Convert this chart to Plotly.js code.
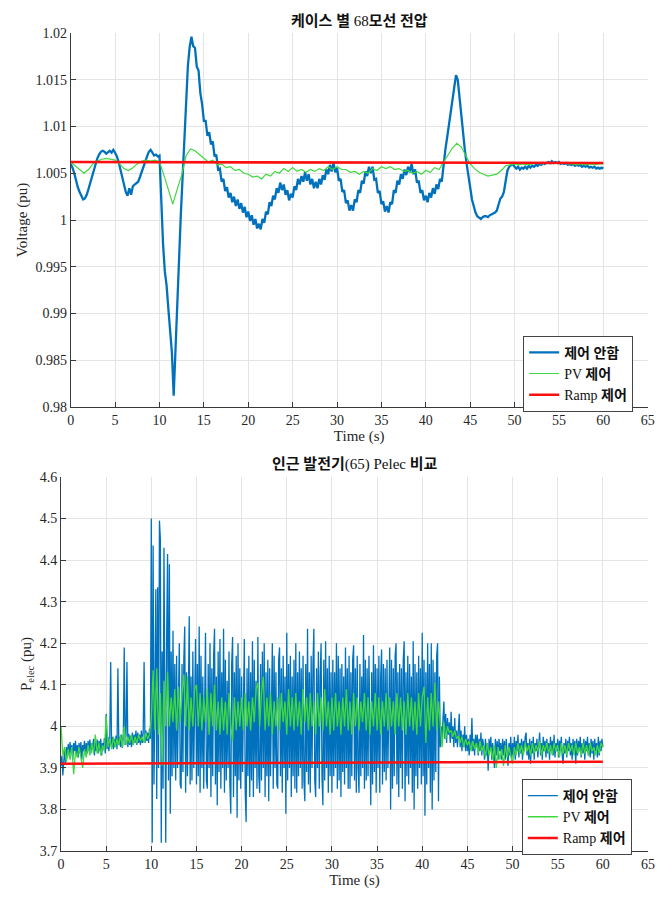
<!DOCTYPE html>
<html><head><meta charset="utf-8">
<script src="https://cdn.plot.ly/plotly-3.0.1.min.js"></script>
<style>html,body{margin:0;padding:0;background:#fff}#chart{width:669px;height:900px}</style>
</head><body><div id="chart"></div>
<script>
// ---------- labels ----------
const seriesNames = ['<b>제어 안함</b>', 'PV <b>제어</b>', 'Ramp <b>제어</b>'];
const seriesColors = ['#0072BD', '#3fd83f', '#ff1010'];
const titleTop = '<b>케이스 별</b> 68<b>모선 전압</b>';
const titleBottom = '<b>인근 발전기</b>(65) Pelec <b>비교</b>';
const timeLabel = 'Time (s)';
const voltLabel = 'Voltage (pu)';
const pLabel = 'P<sub>elec</sub> (pu)';
const voltTickVals = [0.98, 0.985, 0.99, 0.995, 1, 1.005, 1.01, 1.015, 1.02];
const voltTickText = ['0.98', '0.985', '0.99', '0.995', '1', '1.005', '1.01', '1.015', '1.02'];
const pTickVals = [3.7, 3.8, 3.9, 4.0, 4.1, 4.2, 4.3, 4.4, 4.5, 4.6];
const pTickText = ['3.7', '3.8', '3.9', '4', '4.1', '4.2', '4.3', '4.4', '4.5', '4.6'];

// ---------- bus 68 voltage (pu) ----------
const voltNoneStep = 0.2; // s
const voltNone = [
1.0060,1.0056,1.0050,1.0042,1.0035,1.0030,1.0025,1.0022,1.0023,1.0027,
1.0033,1.0040,1.0047,1.0055,1.0061,1.0066,1.0070,1.0073,1.0074,1.0073,
1.0071,1.0073,1.0074,1.0072,1.0075,1.0072,1.0068,1.0062,1.0054,1.0045,
1.0036,1.0030,1.0026,1.0034,1.0027,1.0036,1.0038,1.0040,1.0041,1.0046,
1.0052,1.0058,1.0063,1.0068,1.0073,1.0075,1.0072,1.0069,1.0070,1.0068,
1.0069,1.0010,0.9975,0.9945,0.9930,0.9905,0.9882,0.9858,0.9812,0.9866,
0.9914,0.9960,1.0005,1.0045,1.0090,1.0130,1.0165,1.0185,1.0196,1.0186,
1.0184,1.0164,1.0160,1.0136,1.0124,1.0106,1.0106,1.0090,1.0094,1.0081,
1.0084,1.0068,1.0070,1.0054,1.0055,1.0041,1.0044,1.0031,1.0035,1.0024,
1.0029,1.0019,1.0025,1.0015,1.0022,1.0012,1.0018,1.0008,1.0014,1.0003,
1.0009,0.9999,1.0005,0.9995,1.0001,0.9991,0.9996,0.9990,1.0001,0.9997,
1.0009,1.0006,1.0019,1.0015,1.0026,1.0022,1.0034,1.0029,1.0040,1.0032,
1.0038,1.0027,1.0032,1.0021,1.0028,1.0024,1.0036,1.0032,1.0044,1.0038,
1.0047,1.0041,1.0051,1.0042,1.0049,1.0038,1.0044,1.0034,1.0041,1.0034,
1.0044,1.0038,1.0048,1.0043,1.0054,1.0049,1.0059,1.0052,1.0061,1.0051,
1.0056,1.0042,1.0044,1.0030,1.0032,1.0018,1.0021,1.0010,1.0016,1.0010,
1.0022,1.0019,1.0032,1.0029,1.0042,1.0039,1.0052,1.0047,1.0057,1.0050,
1.0057,1.0043,1.0044,1.0029,1.0031,1.0017,1.0020,1.0009,1.0015,1.0008,
1.0019,1.0017,1.0032,1.0029,1.0042,1.0038,1.0049,1.0044,1.0054,1.0048,
1.0057,1.0051,1.0060,1.0049,1.0054,1.0040,1.0042,1.0029,1.0032,1.0021,
1.0026,1.0019,1.0029,1.0024,1.0034,1.0028,1.0038,1.0033,1.0044,1.0041,
1.0062,1.0075,1.0088,1.0102,1.0115,1.0130,1.0145,1.0155,1.0150,1.0130,
1.0115,1.0095,1.0075,1.0060,1.0045,1.0035,1.0022,1.0014,1.0008,1.0004,
1.0002,1.0001,1.0003,1.0004,1.0004,1.0003,1.0005,1.0006,1.0007,1.0008,
1.0010,1.0018,1.0023,1.0025,1.0030,1.0042,1.0053,1.0057,1.0059,1.0060,
1.0057,1.0055,1.0057,1.0054,1.0056,1.0055,1.0057,1.0055,1.0058,1.0056,
1.0058,1.0057,1.0059,1.0058,1.0060,1.0059,1.0061,1.0060,1.0061,1.0062,
1.0061,1.0063,1.0061,1.0062,1.0061,1.0062,1.0060,1.0061,1.0060,1.0061,
1.0059,1.0060,1.0059,1.0060,1.0058,1.0059,1.0058,1.0059,1.0057,1.0058,
1.0057,1.0058,1.0056,1.0057,1.0056,1.0057,1.0055,1.0056,1.0055,1.0056,
1.0055];

const voltPVStep = 0.5; // s
const voltPV = [
1.0062,1.0058,1.0053,1.0050,1.0054,1.0060,1.0063,1.0065,1.0066,1.0065,
1.0064,1.0060,1.0055,1.0053,1.0056,1.0060,1.0063,1.0064,1.0063,1.0064,
1.0062,1.0048,1.0032,1.0017,1.0033,1.0048,1.0069,1.0076,1.0074,1.0070,
1.0066,1.0062,1.0064,1.0059,1.0060,1.0056,1.0057,1.0053,1.0054,1.0050,
1.0049,1.0046,1.0047,1.0044,1.0049,1.0047,1.0052,1.0050,1.0055,1.0052,
1.0056,1.0052,1.0054,1.0051,1.0054,1.0052,1.0055,1.0053,1.0057,1.0054,
1.0057,1.0054,1.0054,1.0051,1.0052,1.0049,1.0052,1.0050,1.0055,1.0053,
1.0057,1.0055,1.0057,1.0054,1.0055,1.0052,1.0053,1.0050,1.0052,1.0049,
1.0053,1.0051,1.0056,1.0054,1.0062,1.0069,1.0077,1.0082,1.0078,1.0069,
1.0060,1.0055,1.0051,1.0049,1.0047,1.0048,1.0049,1.0053,1.0058,1.0059,
1.0060,1.0059,1.0060,1.0059,1.0060,1.0061,1.0060,1.0061,1.0060,1.0061,
1.0060,1.0061,1.0060,1.0060,1.0059,1.0060,1.0059,1.0060,1.0059,1.0060,
1.0060];

const voltRampT = [0, 60];
const voltRamp = [1.0062, 1.0061];

// ---------- generator 65 Pelec (pu) ----------
const pNoneStep = 0.1; // s
const pNone = [
3.905,3.93,3.882,3.92,3.945,3.91,3.95,3.925,3.958,3.93,
3.962,3.935,3.955,3.92,3.96,3.94,3.965,3.93,3.955,3.925,
3.96,3.935,3.962,3.92,3.955,3.94,3.965,3.93,3.96,3.935,
3.965,3.94,3.968,3.935,3.96,3.945,3.97,3.93,3.962,3.94,
3.968,3.935,3.965,3.94,3.97,3.93,3.96,3.945,3.972,3.935,
4.03,3.945,3.975,3.94,3.97,4.155,3.95,3.975,3.945,3.97,
3.95,3.978,3.945,4.14,3.955,3.975,3.95,3.98,3.948,3.975,
4.19,3.955,3.98,4.155,3.95,3.982,3.955,3.978,3.95,3.985,
3.955,3.98,3.96,3.99,3.955,3.985,3.96,3.98,3.955,3.99,
3.96,3.985,4.155,3.96,3.99,3.965,3.985,3.96,3.995,3.97,
4.50,3.72,4.435,3.86,4.25,4.33,3.825,4.335,3.9,4.495,
4.45,3.72,4.18,3.85,4.43,3.95,3.72,4.22,4.415,3.87,
4.39,3.79,4.18,3.88,4.23,3.9,4.15,3.87,4.17,3.9,
4.14,4.20,3.86,3.85,4.15,3.89,4.16,4.24,3.84,4.13,
3.88,4.17,4.265,3.86,4.12,3.87,4.18,3.9,4.14,4.21,
3.86,4.15,3.88,4.24,3.84,4.17,3.9,4.12,3.85,4.16,
4.225,3.87,3.85,4.15,3.9,4.2,3.83,4.14,3.88,4.17,
4.235,3.86,4.12,3.81,4.18,3.89,4.21,3.85,4.13,3.9,
4.235,3.84,4.16,3.87,4.11,3.9,4.18,3.86,3.79,4.15,
4.215,3.83,4.13,3.88,4.17,3.78,4.2,3.87,4.14,3.85,
4.12,3.89,4.16,4.21,3.84,3.77,4.14,3.88,4.17,3.83,
4.13,3.87,4.205,3.83,4.16,3.9,4.11,3.85,4.215,3.88,
3.84,4.15,3.87,4.18,3.9,4.2,3.83,4.13,3.88,4.16,
3.82,4.14,3.88,4.12,4.2,3.85,4.17,3.9,4.13,3.86,
3.85,4.16,4.19,3.88,4.14,3.84,4.17,3.9,4.12,3.79,
4.225,3.87,4.15,3.9,4.17,3.83,4.12,3.88,4.16,3.85,
4.2,3.84,4.13,3.88,4.18,3.9,4.14,3.85,4.17,3.87,
3.82,4.15,3.89,4.235,3.86,4.13,3.84,4.17,3.9,4.15,
4.235,3.87,3.83,4.14,3.9,4.18,3.85,4.12,4.2,3.88,
3.81,4.16,3.87,4.205,3.9,4.14,3.84,4.17,3.88,4.13,
3.84,4.16,3.88,4.13,3.9,4.2,3.85,4.17,3.87,4.14,
3.83,4.15,3.89,4.12,3.86,4.19,3.9,4.14,3.85,4.17,
3.85,4.13,3.88,4.16,4.195,3.87,4.14,3.84,4.17,3.9,
3.84,4.15,3.88,4.12,3.9,4.22,3.85,4.16,3.87,4.14,
3.88,4.17,3.9,3.81,4.13,3.86,4.195,3.89,4.15,3.84,
4.14,3.9,4.17,3.84,4.12,4.185,3.86,4.15,3.89,4.14,
3.87,4.16,3.9,4.13,4.19,3.80,4.16,3.85,4.14,3.88,
4.17,4.2,3.86,4.13,3.83,4.15,3.9,4.14,3.85,4.16,
4.205,3.82,4.13,3.88,4.17,3.86,4.15,3.9,4.12,3.84,
4.205,3.80,4.15,3.88,4.13,3.85,4.17,3.9,4.14,3.86,
4.225,3.88,4.16,3.785,4.13,3.86,4.2,3.9,4.15,3.84,
4.2,3.80,4.16,3.87,4.13,3.89,4.17,4.2,3.82,4.12,
3.95,4.0,3.96,4.02,4.06,3.97,4.03,3.96,4.02,3.98,
4.01,3.96,4.035,3.97,4.0,3.95,4.02,3.96,3.99,3.95,
4.0,4.03,3.95,3.99,3.94,3.98,3.95,4.0,3.94,3.98,
3.94,3.97,3.93,3.98,3.95,4.02,3.94,3.97,3.93,3.98,
3.95,3.98,3.93,3.97,3.94,3.985,3.93,3.97,3.95,3.92,
3.97,3.93,3.96,3.893,3.97,3.94,3.975,3.92,3.96,3.93,
3.90,3.97,3.93,3.965,3.92,3.97,3.94,3.96,3.92,3.97,
3.93,3.965,3.92,3.97,3.94,3.905,3.96,3.93,3.975,3.92,
3.96,3.93,3.975,3.92,3.965,3.94,3.98,3.925,3.96,3.935,
3.97,3.92,3.965,3.94,3.975,3.985,3.93,3.96,3.92,3.97,
3.91,3.965,3.935,3.975,3.92,3.96,3.94,3.97,3.925,3.965,
3.985,3.93,3.96,3.92,3.975,3.94,3.965,3.925,3.97,3.935,
3.96,3.92,3.975,3.94,3.965,3.93,3.98,3.925,3.96,3.94,
3.97,3.925,3.965,3.94,3.975,3.93,3.91,3.96,3.935,3.97,
3.925,3.965,3.94,3.975,3.93,3.96,3.92,3.97,3.935,3.965,
3.91,3.97,3.93,3.965,3.94,3.975,3.925,3.96,3.935,3.97,
3.92,3.965,3.94,3.975,3.93,3.96,3.925,3.97,3.935,3.965,
3.92,3.97,3.94,3.96,3.925,3.975,3.93,3.965,3.94,3.97,
3.95];

const pPVStep = 0.2; // s
const pPV = [
4.0,3.93,3.95,3.915,3.945,3.92,3.95,3.885,3.94,3.925,
3.95,3.92,3.90,3.945,3.925,3.955,3.93,3.96,3.935,3.98,
3.935,3.96,3.93,3.955,3.94,4.025,3.95,3.97,3.945,3.975,
3.95,3.97,3.955,3.98,3.95,4.0,3.955,3.975,3.96,3.98,
3.955,3.975,3.96,3.98,3.965,3.975,3.96,3.985,3.97,3.98,
4.02,4.135,3.99,4.14,3.98,4.08,3.905,4.11,4.0,4.13,
4.0,4.07,4.01,4.09,3.99,4.095,4.01,4.08,4.125,4.0,
4.12,3.99,4.07,4.0,4.09,4.10,4.0,4.08,3.99,4.07,
4.01,4.09,3.98,4.08,4.0,4.1,3.99,4.06,3.98,4.07,
3.99,4.06,3.98,4.08,4.0,3.965,4.07,3.99,4.06,4.0,
4.07,3.99,4.08,4.0,4.06,3.99,4.07,4.01,4.09,4.105,
4.0,4.08,4.12,3.99,4.07,4.0,4.08,3.98,4.06,4.0,
4.07,3.99,4.08,4.01,4.06,3.98,4.09,4.0,4.07,3.99,
4.08,4.0,4.06,3.98,4.09,4.01,4.07,3.99,4.08,4.0,
4.06,3.98,4.08,4.0,4.07,3.99,4.09,4.0,4.06,3.98,
4.07,3.99,4.08,4.0,4.06,3.98,4.07,4.0,4.09,3.99,
4.06,3.98,4.08,4.0,4.07,3.99,4.06,4.01,4.08,3.99,
4.07,3.98,4.06,4.0,4.08,3.99,4.07,3.98,4.06,4.0,
4.08,3.99,4.07,4.0,4.06,3.98,4.08,4.0,4.07,3.99,
4.06,3.98,4.08,4.0,4.07,3.99,4.06,3.98,4.08,4.0,
4.07,4.095,3.96,4.07,3.99,4.08,4.0,4.105,3.99,4.06,
4.005,3.95,4.01,3.97,4.0,3.985,3.99,3.975,3.99,3.97,
3.977,3.96,3.975,3.95,3.97,3.955,3.965,3.94,3.965,3.945,
3.96,3.935,3.965,3.94,3.955,3.925,3.96,3.93,3.95,3.92,
3.955,3.90,3.95,3.92,3.945,3.905,3.955,3.925,3.95,3.93,
3.91,3.95,3.93,3.96,3.935,3.955,3.93,3.96,3.94,3.955,
3.93,3.96,3.935,3.955,3.94,3.965,3.93,3.955,3.94,3.96,
3.935,3.955,3.93,3.96,3.94,3.955,3.925,3.96,3.935,3.955,
3.93,3.96,3.94,3.955,3.93,3.96,3.935,3.95,3.93,3.96,
3.935,3.955,3.93,3.96,3.94,3.95,3.93,3.955,3.935,3.96,
3.95];

const pRampT = [0, 60];
const pRamp = [3.91, 3.915];

// ---------- build ----------
const timeOf = (arr, step) => arr.map((_, i) => +(i * step).toFixed(3));
const FONT = "'Liberation Serif', 'Times New Roman', 'Noto Sans CJK KR', serif";
const AX = '#3a3a3a';
const GRID = '#e4e4e4';

const traces = [
  {x: timeOf(voltNone, voltNoneStep), y: voltNone, name: seriesNames[0], type: 'scatter', mode: 'lines',
   line: {color: seriesColors[0], width: 2.3}, xaxis: 'x', yaxis: 'y', legend: 'legend'},
  {x: timeOf(voltPV, voltPVStep), y: voltPV, name: seriesNames[1], type: 'scatter', mode: 'lines',
   line: {color: seriesColors[1], width: 1.2}, xaxis: 'x', yaxis: 'y', legend: 'legend'},
  {x: voltRampT, y: voltRamp, name: seriesNames[2], type: 'scatter', mode: 'lines',
   line: {color: seriesColors[2], width: 2.6}, xaxis: 'x', yaxis: 'y', legend: 'legend'},
  {x: timeOf(pNone, pNoneStep), y: pNone, name: seriesNames[0], type: 'scatter', mode: 'lines',
   line: {color: seriesColors[0], width: 1.3}, xaxis: 'x2', yaxis: 'y2', legend: 'legend2'},
  {x: timeOf(pPV, pPVStep), y: pPV, name: seriesNames[1], type: 'scatter', mode: 'lines',
   line: {color: seriesColors[1], width: 1.3}, xaxis: 'x2', yaxis: 'y2', legend: 'legend2'},
  {x: pRampT, y: pRamp, name: seriesNames[2], type: 'scatter', mode: 'lines',
   line: {color: seriesColors[2], width: 2.6}, xaxis: 'x2', yaxis: 'y2', legend: 'legend2'}
];

function xAxis(domain, anchor) {
  return {domain: domain, anchor: anchor, range: [0, 65], tick0: 0, dtick: 5,
    ticks: 'inside', ticklen: 5, tickcolor: AX, showline: true, linecolor: AX, linewidth: 1,
    showgrid: true, gridcolor: GRID, zeroline: false, fixedrange: true,
    tickfont: {family: FONT, size: 14, color: '#262626'},
    title: {text: timeLabel, font: {family: FONT, size: 15, color: '#262626'}, standoff: 3}};
}
function yAxis(domain, anchor, range, vals, text, label) {
  return {domain: domain, anchor: anchor, range: range, tickmode: 'array', tickvals: vals, ticktext: text,
    ticks: 'inside', ticklen: 5, tickcolor: AX, showline: true, linecolor: AX, linewidth: 1,
    showgrid: true, gridcolor: GRID, zeroline: false, fixedrange: true,
    tickfont: {family: FONT, size: 14, color: '#262626'},
    title: {text: label, font: {family: FONT, size: 15, color: '#262626'}, standoff: 4}};
}
function legendAt(x, y) {
  return {x: x, y: y, xanchor: 'left', yanchor: 'top', bgcolor: '#ffffff', bordercolor: '#444',
    borderwidth: 1, font: {family: FONT, size: 14, color: '#111'}, itemwidth: 30, tracegroupgap: 0,
    traceorder: 'normal'};
}

const layout = {
  width: 669, height: 900, margin: {l: 0, r: 0, t: 0, b: 0},
  paper_bgcolor: '#fff', plot_bgcolor: '#fff', showlegend: true, hovermode: false,
  font: {family: FONT},
  xaxis: xAxis([0.1057, 0.9682], 'y'),
  yaxis: yAxis([0.5478, 0.9633], 'x', [0.98, 1.02], voltTickVals, voltTickText, voltLabel),
  xaxis2: xAxis([0.0912, 0.9686], 'y2'),
  yaxis2: yAxis([0.0544, 0.47], 'x2', [3.7, 4.6], pTickVals, pTickText, pLabel),
  legend: legendAt(0.782, 0.627),
  legend2: legendAt(0.780, 0.1345),
  annotations: [
    {text: titleTop, xref: 'paper', yref: 'paper', x: 0.537, y: 0.9655, xanchor: 'center', yanchor: 'bottom',
     showarrow: false, font: {family: FONT, size: 15, color: '#111'}},
    {text: titleBottom, xref: 'paper', yref: 'paper', x: 0.53, y: 0.4722, xanchor: 'center', yanchor: 'bottom',
     showarrow: false, font: {family: FONT, size: 15, color: '#111'}}
  ]
};

Plotly.newPlot('chart', traces, layout, {displayModeBar: false, staticPlot: true});
</script>
</body></html>
